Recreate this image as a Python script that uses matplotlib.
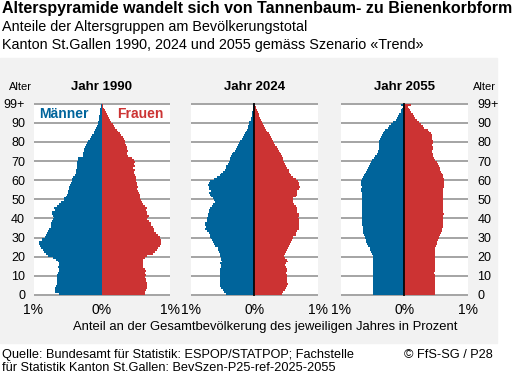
import matplotlib
matplotlib.use('Agg')
import matplotlib.pyplot as plt
from matplotlib.patches import Rectangle

plt.rcParams['font.family'] = ['Liberation Sans', 'DejaVu Sans']

# Data: share of total population (%) per single year of age, ages 0..99+
ages = list(range(100))

men_1990 = [0.62, 0.68, 0.69, 0.68, 0.67, 0.66, 0.66, 0.65, 0.65, 0.65,
            0.65, 0.64, 0.62, 0.63, 0.64, 0.62, 0.62, 0.64, 0.67, 0.72,
            0.785, 0.82, 0.85, 0.86, 0.89, 0.90, 0.92, 0.92, 0.87, 0.87,
            0.83, 0.81, 0.80, 0.785, 0.775, 0.75, 0.745, 0.745, 0.735, 0.71,
            0.70, 0.71, 0.725, 0.725, 0.69, 0.70, 0.66, 0.62, 0.59, 0.55,
            0.55, 0.53, 0.515, 0.50, 0.49, 0.475, 0.475, 0.465, 0.45, 0.44,
            0.43, 0.42, 0.39, 0.38, 0.37, 0.37, 0.365, 0.365, 0.36, 0.36,
            0.35, 0.35, 0.28, 0.275, 0.27, 0.265, 0.26, 0.245, 0.23, 0.22,
            0.20, 0.17, 0.16, 0.15, 0.12, 0.11, 0.10, 0.09, 0.075, 0.06,
            0.05, 0.045, 0.04, 0.035, 0.03, 0.025, 0.02, 0.02, 0.015, 0.015]
women_1990 = [0.64, 0.64, 0.65, 0.66, 0.66, 0.67, 0.66, 0.65, 0.65, 0.64,
              0.65, 0.64, 0.65, 0.64, 0.61, 0.60, 0.60, 0.60, 0.61, 0.64,
              0.67, 0.75, 0.78, 0.81, 0.83, 0.86, 0.87, 0.87, 0.87, 0.86,
              0.85, 0.82, 0.80, 0.77, 0.76, 0.75, 0.72, 0.72, 0.69, 0.67,
              0.68, 0.69, 0.67, 0.66, 0.65, 0.66, 0.64, 0.61, 0.59, 0.575,
              0.56, 0.56, 0.555, 0.54, 0.525, 0.52, 0.525, 0.515, 0.515, 0.505,
              0.505, 0.505, 0.49, 0.475, 0.475, 0.48, 0.465, 0.49, 0.475, 0.49,
              0.475, 0.44, 0.39, 0.37, 0.37, 0.38, 0.37, 0.37, 0.36, 0.345,
              0.335, 0.32, 0.31, 0.285, 0.27, 0.245, 0.23, 0.20, 0.18, 0.16,
              0.14, 0.12, 0.11, 0.09, 0.07, 0.06, 0.05, 0.035, 0.025, 0.02]

men_2024 = [0.45, 0.475, 0.50, 0.525, 0.54, 0.55, 0.55, 0.54, 0.55, 0.54,
            0.535, 0.55, 0.55, 0.535, 0.525, 0.525, 0.535, 0.515, 0.525, 0.525,
            0.54, 0.55, 0.565, 0.57, 0.58, 0.615, 0.63, 0.66, 0.67, 0.685,
            0.695, 0.70, 0.71, 0.74, 0.775, 0.765, 0.78, 0.775, 0.75, 0.74,
            0.75, 0.73, 0.73, 0.72, 0.71, 0.70, 0.67, 0.65, 0.62, 0.63,
            0.66, 0.685, 0.695, 0.71, 0.685, 0.71, 0.72, 0.725, 0.71, 0.70,
            0.64, 0.595, 0.55, 0.525, 0.50, 0.46, 0.45, 0.44, 0.41, 0.395,
            0.385, 0.385, 0.37, 0.35, 0.34, 0.30, 0.29, 0.28, 0.26, 0.235,
            0.22, 0.195, 0.175, 0.165, 0.15, 0.13, 0.12, 0.105, 0.095, 0.09,
            0.08, 0.06, 0.05, 0.04, 0.035, 0.03, 0.025, 0.025, 0.02, 0.015]
women_2024 = [0.44, 0.46, 0.485, 0.50, 0.515, 0.525, 0.515, 0.515, 0.51, 0.51,
              0.515, 0.50, 0.51, 0.51, 0.50, 0.485, 0.50, 0.525, 0.515, 0.49,
              0.475, 0.485, 0.50, 0.515, 0.525, 0.55, 0.565, 0.58, 0.595, 0.605,
              0.615, 0.65, 0.66, 0.67, 0.71, 0.70, 0.71, 0.71, 0.71, 0.70,
              0.695, 0.70, 0.70, 0.675, 0.67, 0.67, 0.66, 0.62, 0.605, 0.615,
              0.615, 0.65, 0.67, 0.67, 0.675, 0.70, 0.72, 0.71, 0.70, 0.685,
              0.66, 0.615, 0.58, 0.565, 0.55, 0.54, 0.515, 0.50, 0.485, 0.475,
              0.45, 0.45, 0.43, 0.42, 0.41, 0.385, 0.37, 0.35, 0.33, 0.315,
              0.30, 0.28, 0.26, 0.245, 0.225, 0.20, 0.185, 0.17, 0.15, 0.13,
              0.12, 0.105, 0.09, 0.08, 0.07, 0.05, 0.04, 0.03, 0.02, 0.015]

men_2055 = [0.50, 0.50, 0.50, 0.50, 0.50, 0.50, 0.50, 0.50, 0.50, 0.50,
            0.50, 0.49, 0.49, 0.49, 0.49, 0.49, 0.49, 0.49, 0.49, 0.50,
            0.50, 0.51, 0.53, 0.54, 0.55, 0.57, 0.59, 0.60, 0.61, 0.615,
            0.62, 0.64, 0.645, 0.65, 0.66, 0.66, 0.67, 0.67, 0.67, 0.67,
            0.67, 0.67, 0.67, 0.67, 0.67, 0.67, 0.67, 0.67, 0.67, 0.67,
            0.675, 0.675, 0.67, 0.67, 0.68, 0.68, 0.675, 0.68, 0.685, 0.685,
            0.675, 0.66, 0.64, 0.62, 0.605, 0.59, 0.58, 0.565, 0.54, 0.525,
            0.51, 0.475, 0.46, 0.435, 0.42, 0.41, 0.405, 0.405, 0.405, 0.405,
            0.395, 0.385, 0.37, 0.36, 0.34, 0.315, 0.30, 0.26, 0.235, 0.21,
            0.175, 0.13, 0.115, 0.095, 0.08, 0.06, 0.05, 0.035, 0.025, 0.05]
women_2055 = [0.48, 0.48, 0.48, 0.48, 0.48, 0.48, 0.48, 0.48, 0.48, 0.48,
              0.48, 0.465, 0.48, 0.48, 0.48, 0.48, 0.48, 0.48, 0.48, 0.48,
              0.48, 0.48, 0.48, 0.48, 0.49, 0.50, 0.51, 0.515, 0.53, 0.54,
              0.55, 0.57, 0.58, 0.595, 0.595, 0.605, 0.605, 0.605, 0.605, 0.605,
              0.605, 0.605, 0.62, 0.615, 0.615, 0.605, 0.605, 0.605, 0.615, 0.615,
              0.615, 0.615, 0.615, 0.615, 0.615, 0.615, 0.62, 0.62, 0.63, 0.63,
              0.63, 0.615, 0.605, 0.595, 0.58, 0.57, 0.565, 0.54, 0.525, 0.515,
              0.49, 0.475, 0.46, 0.45, 0.44, 0.44, 0.45, 0.45, 0.44, 0.45,
              0.45, 0.435, 0.43, 0.43, 0.42, 0.395, 0.37, 0.315, 0.29, 0.26,
              0.225, 0.195, 0.17, 0.16, 0.13, 0.105, 0.09, 0.07, 0.05, 0.105]

years = ['1990', '2024', '2055']
men = [men_1990, men_2024, men_2055]
women = [women_1990, women_2024, women_2055]
ytick_pos = [0, 10, 20, 30, 40, 50, 60, 70, 80, 90, 100]
ytick_labels = ['0', '10', '20', '30', '40', '50', '60', '70', '80', '90', '99+']

blue = '#00649b'
red = '#cc3333'
grid_col = '#8c8c8c'

W, H = 512, 375
def fx(x):
    return x / W
def fy(y):
    return 1 - y / H

fig = plt.figure(figsize=(5.12, 3.75), dpi=100)
fig.patch.set_facecolor('white')
fig.patches.append(Rectangle((0, fy(343)), fx(497), (343 - 58) / H,
                             transform=fig.transFigure, color='#f2f2f2', zorder=-5))

# panel boxes in pixels (left, right)
panels = [(33.5, 170), (191, 317.7), (341, 467.7)]
top, bottom = 103, 295.7

for i, (x0, x1) in enumerate(panels):
    ax = fig.add_axes([fx(x0), fy(bottom), (x1 - x0) / W, (bottom - top) / H])
    ax.set_facecolor('white')
    ax.barh(ages, [-v for v in men[i]], height=1, align='edge', color=blue, lw=0, zorder=2)
    ax.barh(ages, women[i], height=1, align='edge', color=red, lw=0, zorder=2)
    if i > 0:
        ax.axvline(0, color='black', lw=1.2, zorder=3)
    ax.set_xlim(-1, 1)
    ax.set_ylim(-0.4, 100.4)
    ax.set_yticks(ytick_pos)
    ax.yaxis.grid(True, color=grid_col, lw=1.1)
    ax.set_axisbelow(True)
    for s in ax.spines.values():
        s.set_visible(False)
    ax.set_xticks([-1, 0, 1])
    ax.set_xticklabels(['1%', '0%', '1%'], fontsize=10)
    ax.tick_params(axis='both', length=0)
    ax.tick_params(axis='x', pad=5)
    if i == 0:
        ax.set_yticklabels(ytick_labels, fontsize=9)
        ax.tick_params(axis='y', pad=6)
        ax.text(-0.55, 94.8, 'Männer', color=blue, fontsize=10, fontweight='bold',
                ha='center', va='center')
        ax.text(0.56, 94.8, 'Frauen', color=red, fontsize=10, fontweight='bold',
                ha='center', va='center')
    elif i == 2:
        ax.yaxis.tick_right()
        ax.set_yticklabels(ytick_labels, fontsize=9)
        ax.tick_params(axis='y', pad=7, length=0)
    else:
        ax.set_yticklabels([])
    ax.set_title('Jahr ' + years[i], fontsize=9.5, fontweight='bold', pad=9)

fig.text(fx(9), fy(87), 'Alter', fontsize=8, va='center')
fig.text(fx(472.5), fy(87), 'Alter', fontsize=8, va='center')

fig.text(fx(2), fy(8), 'Alterspyramide wandelt sich von Tannenbaum- zu Bienenkorbform',
         fontsize=11.5, fontweight='bold', va='center')
fig.text(fx(2), fy(27), 'Anteile der Altersgruppen am Bevölkerungstotal', fontsize=10.4, va='center')
fig.text(fx(2), fy(45), 'Kanton St.Gallen 1990, 2024 und 2055 gemäss Szenario «Trend»',
         fontsize=10.4, va='center')

fig.text(fx(264.7), fy(327), 'Anteil an der Gesamtbevölkerung des jeweiligen Jahres in Prozent',
         fontsize=9.4, ha='center', va='center')

fig.text(fx(2), fy(355), 'Quelle: Bundesamt für Statistik: ESPOP/STATPOP; Fachstelle',
         fontsize=9.2, va='center')
fig.text(fx(2), fy(368), 'für Statistik Kanton St.Gallen: BevSzen-P25-ref-2025-2055',
         fontsize=9.2, va='center')
fig.text(fx(493), fy(355), '© FfS-SG / P28', fontsize=9.2, ha='right', va='center')

fig.savefig('out.png', dpi=100)
